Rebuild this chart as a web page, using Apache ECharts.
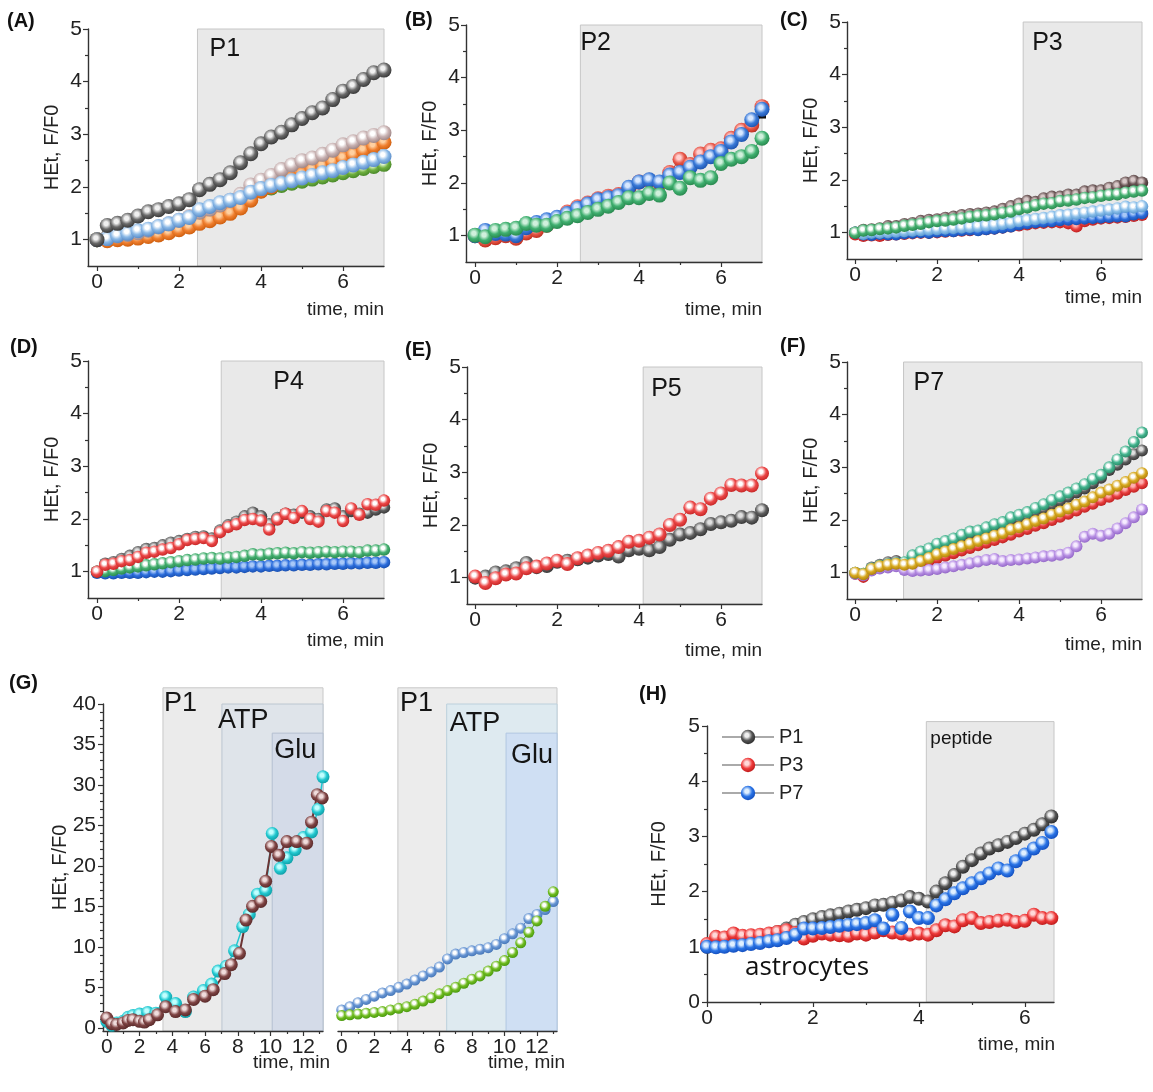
<!DOCTYPE html>
<html>
<head>
<meta charset="utf-8">
<script src="https://cdn.jsdelivr.net/npm/echarts@6/dist/echarts.min.js"></script>
<style>
  html, body { margin: 0; padding: 0; background: #ffffff; }
  #chart { width: 1153px; height: 1092px; }
</style>
</head>
<body>
<div id="chart"></div>
<script>
// ---------- sampling times (min) ----------
const t15s = [0,0.25,0.5,0.75,1,1.25,1.5,1.75,2,2.25,2.5,2.75,3,3.25,3.5,3.75,4,4.25,4.5,4.75,5,5.25,5.5,5.75,6,6.25,6.5,6.75,7];
const t12s = [0,0.2,0.4,0.6,0.8,1,1.2,1.4,1.6,1.8,2,2.2,2.4,2.6,2.8,3,3.2,3.4,3.6,3.8,4,4.2,4.4,4.6,4.8,5,5.2,5.4,5.6,5.8,6,6.2,6.4,6.6,6.8,7];
const t30s = [0,0.5,1,1.5,2,2.5,3,3.5,4,4.5,5,5.5,6,6.5,7,7.5,8,8.5,9,9.5,10,10.5,11,11.5,12,12.5,13];
const t10s = [0,0.17,0.33,0.5,0.67,0.83,1,1.17,1.33,1.5,1.67,1.83,2,2.17,2.33,2.5,2.67,2.83,3,3.17,3.33,3.5,3.67,3.83,4,4.17,4.33,4.5,4.67,4.83,5,5.17,5.33,5.5,5.67,5.83,6,6.17,6.33,6.5];

// ---------- (A) P1 ----------
const aGray   = [1.00,1.27,1.31,1.37,1.45,1.53,1.57,1.63,1.68,1.76,1.95,2.05,2.14,2.27,2.46,2.63,2.82,2.95,3.04,3.18,3.30,3.41,3.50,3.66,3.82,3.91,4.04,4.17,4.22];
const aPink   = [1.00,1.03,1.07,1.10,1.13,1.18,1.24,1.30,1.37,1.44,1.52,1.58,1.66,1.75,1.86,2.04,2.13,2.22,2.33,2.42,2.50,2.55,2.62,2.70,2.80,2.86,2.93,2.98,3.03];
const aOrange = [1.00,0.98,1.00,1.01,1.03,1.06,1.09,1.13,1.19,1.24,1.31,1.36,1.43,1.50,1.60,1.75,1.92,2.00,2.09,2.16,2.24,2.33,2.40,2.48,2.55,2.62,2.70,2.77,2.85];
const aGreen  = [1.00,1.00,1.03,1.06,1.10,1.14,1.18,1.23,1.29,1.35,1.45,1.53,1.60,1.68,1.76,1.85,1.93,1.98,2.03,2.07,2.11,2.15,2.19,2.23,2.27,2.31,2.35,2.39,2.43];
const aBlue   = [1.00,1.02,1.08,1.12,1.17,1.20,1.25,1.30,1.37,1.42,1.57,1.63,1.70,1.75,1.80,1.90,1.97,2.03,2.07,2.12,2.17,2.22,2.27,2.31,2.37,2.42,2.47,2.52,2.58];

// ---------- (B) P2 ----------
const bBlack = [1.00,1.02,1.04,1.05,1.02,1.10,1.18,1.25,1.32,1.42,1.52,1.60,1.66,1.72,1.72,1.85,1.98,2.02,2.00,2.15,2.22,2.30,2.40,2.48,2.58,2.75,2.88,3.05,3.30];
const bRed   = [1.00,0.92,0.96,1.00,0.95,1.05,1.10,1.20,1.30,1.45,1.55,1.62,1.70,1.75,1.78,1.88,2.02,2.05,2.00,2.20,2.45,2.35,2.55,2.62,2.65,2.85,3.00,3.10,3.45];
const bBlue  = [1.00,1.10,1.04,1.03,1.00,1.15,1.25,1.30,1.35,1.42,1.52,1.60,1.68,1.72,1.76,1.92,2.02,2.06,2.02,2.15,2.20,2.30,2.40,2.50,2.60,2.78,2.92,3.20,3.40];
const bGreen = [1.01,0.98,1.10,1.12,1.14,1.23,1.20,1.20,1.27,1.33,1.38,1.44,1.50,1.56,1.63,1.72,1.72,1.80,1.77,2.00,1.90,2.10,2.05,2.10,2.37,2.45,2.50,2.60,2.85];

// ---------- (C) P3 ----------
const cDark  = [1.00,1.05,1.06,1.08,1.12,1.12,1.16,1.18,1.22,1.24,1.25,1.28,1.30,1.33,1.35,1.36,1.38,1.40,1.45,1.50,1.55,1.60,1.58,1.65,1.68,1.68,1.72,1.72,1.78,1.80,1.80,1.85,1.88,1.95,1.98,1.95];
const cGreen = [1.00,1.04,1.05,1.07,1.08,1.10,1.13,1.15,1.17,1.20,1.22,1.23,1.25,1.27,1.30,1.32,1.33,1.35,1.38,1.40,1.45,1.48,1.52,1.55,1.56,1.60,1.61,1.63,1.66,1.67,1.70,1.72,1.73,1.76,1.78,1.80];
const cLight = [1.00,0.98,1.00,1.00,1.01,1.02,1.03,1.04,1.05,1.06,1.07,1.08,1.09,1.10,1.11,1.12,1.14,1.15,1.17,1.19,1.22,1.24,1.26,1.28,1.30,1.33,1.34,1.36,1.38,1.40,1.42,1.44,1.46,1.49,1.48,1.50];
const cBlue  = [1.00,0.97,0.96,0.98,0.97,0.97,0.99,1.00,1.01,1.00,1.02,1.03,1.03,1.05,1.06,1.05,1.07,1.08,1.10,1.12,1.16,1.18,1.20,1.21,1.22,1.24,1.25,1.26,1.27,1.28,1.29,1.30,1.31,1.31,1.35,1.37];
const cRed   = [0.97,0.94,0.95,0.94,0.96,0.97,0.98,0.99,1.00,1.00,1.01,1.02,1.03,1.04,1.05,1.06,1.07,1.08,1.10,1.12,1.14,1.16,1.18,1.19,1.20,1.20,1.18,1.12,1.22,1.25,1.27,1.28,1.29,1.30,1.32,1.34];

// ---------- (D) P4 ----------
const dGray  = [1.00,1.15,1.18,1.24,1.30,1.37,1.43,1.45,1.50,1.55,1.58,1.62,1.66,1.67,1.63,1.78,1.88,1.95,2.05,2.12,2.05,1.90,2.02,2.10,2.08,2.12,2.05,2.00,2.18,2.20,2.05,2.15,2.10,2.12,2.18,2.22];
const dRed   = [1.00,1.13,1.15,1.20,1.22,1.28,1.36,1.38,1.42,1.45,1.52,1.60,1.62,1.64,1.58,1.75,1.85,1.90,1.98,2.00,1.97,1.80,1.99,2.10,2.02,2.15,2.00,1.95,2.15,2.12,1.96,2.20,2.08,2.28,2.27,2.35];
const dGreen = [1.00,1.01,1.03,1.06,1.08,1.10,1.12,1.14,1.16,1.18,1.20,1.22,1.23,1.25,1.26,1.25,1.27,1.28,1.30,1.33,1.32,1.34,1.35,1.36,1.35,1.37,1.36,1.37,1.38,1.37,1.38,1.38,1.37,1.40,1.40,1.42];
const dBlue  = [0.98,0.97,0.97,0.98,0.98,0.98,0.99,1.00,1.00,1.01,1.02,1.03,1.04,1.05,1.06,1.07,1.08,1.08,1.09,1.10,1.10,1.11,1.11,1.12,1.12,1.13,1.13,1.14,1.14,1.15,1.15,1.16,1.16,1.17,1.17,1.18];

// ---------- (E) P5 ----------
const eGray = [1.00,1.02,1.10,1.12,1.18,1.28,1.20,1.22,1.30,1.32,1.35,1.38,1.42,1.45,1.40,1.52,1.55,1.52,1.58,1.72,1.82,1.85,1.92,2.02,2.05,2.08,2.15,2.14,2.28];
const eRed  = [1.02,0.90,0.99,1.06,1.08,1.18,1.21,1.27,1.32,1.26,1.37,1.42,1.47,1.51,1.58,1.68,1.70,1.76,1.82,2.00,2.10,2.33,2.30,2.50,2.60,2.76,2.75,2.75,2.98];

// ---------- (F) P7 ----------
const fGray   = [1.00,0.98,1.10,1.15,1.20,1.22,1.18,1.28,1.35,1.42,1.50,1.55,1.60,1.66,1.72,1.75,1.80,1.86,1.90,1.98,2.03,2.08,2.16,2.22,2.30,2.37,2.44,2.52,2.60,2.70,2.80,2.95,3.05,3.15,3.25,3.32];
const fRed    = [0.98,0.92,1.05,1.10,1.13,1.15,1.12,1.14,1.18,1.22,1.28,1.32,1.37,1.42,1.47,1.52,1.57,1.62,1.67,1.72,1.78,1.83,1.89,1.94,2.00,2.06,2.12,2.18,2.25,2.31,2.38,2.44,2.50,2.57,2.63,2.70];
const fPurple = [0.98,0.95,1.04,1.08,1.10,1.12,1.05,1.03,1.04,1.05,1.07,1.10,1.12,1.15,1.18,1.21,1.24,1.26,1.22,1.24,1.25,1.27,1.29,1.31,1.32,1.34,1.38,1.50,1.68,1.74,1.70,1.74,1.84,1.94,2.05,2.20];
const fGreen  = [1.00,0.98,1.08,1.13,1.16,1.18,1.20,1.33,1.40,1.46,1.55,1.60,1.65,1.72,1.78,1.80,1.86,1.92,1.96,2.05,2.10,2.15,2.23,2.30,2.38,2.45,2.52,2.60,2.68,2.78,2.86,3.00,3.15,3.30,3.48,3.66];
const fGold   = [1.00,0.97,1.07,1.12,1.15,1.17,1.15,1.17,1.22,1.28,1.35,1.40,1.45,1.50,1.55,1.60,1.65,1.70,1.75,1.82,1.86,1.92,1.98,2.03,2.10,2.16,2.22,2.29,2.35,2.43,2.52,2.58,2.65,2.72,2.80,2.89];

// ---------- (G) P1 then ATP then Glu ----------
const gBrownT = [0,0.3,0.6,1.0,1.3,1.6,2.0,2.3,2.6,3.1,3.6,4.2,4.8,5.3,6.0,6.5,7.2,7.6,8.1,8.5,8.9,9.4,9.7,10.05,10.5,11.0,11.6,12.2,12.5,12.85,13.15];
const gBrownV = [1.2,0.5,0.4,0.6,0.9,1.0,0.8,0.7,1.0,1.6,2.6,2.0,2.2,3.5,3.9,4.7,6.7,7.8,9.2,13.3,15.0,15.6,18.1,22.4,21.3,23.0,23.0,22.8,25.4,28.8,28.4];
const gCyanT  = [0,0.3,0.6,1.0,1.3,1.6,2.0,2.5,3.0,3.6,4.2,4.8,5.3,5.9,6.4,6.8,7.3,7.8,8.3,8.7,9.2,9.7,10.1,10.6,11.0,11.5,12.0,12.5,12.9,13.2];
const gCyanV  = [0.8,0.3,0.6,0.8,1.3,1.5,1.7,1.9,1.8,3.8,3.0,2.0,3.8,4.6,5.4,7.0,7.6,9.5,12.5,14.0,16.5,17.0,24.0,19.7,21.0,22.0,23.5,24.2,27.0,31.0];
const grGreen = [1.5,1.6,1.7,1.8,1.9,2.0,2.2,2.4,2.6,2.9,3.3,3.7,4.2,4.6,5.0,5.5,6.0,6.4,7.0,7.6,8.3,9.3,10.5,11.8,13.2,15.0,16.8];
const grBlue  = [2.2,2.6,3.1,3.5,3.9,4.3,4.6,5.0,5.4,5.9,6.4,6.9,7.5,8.5,9.1,9.3,9.5,9.7,9.9,10.3,11.0,11.6,12.3,13.5,14.0,14.6,15.6];

// ---------- (H) astrocytes ----------
const hP1 = [1.00,1.02,1.04,1.06,1.10,1.13,1.17,1.22,1.27,1.33,1.40,1.45,1.50,1.54,1.57,1.60,1.64,1.67,1.70,1.75,1.76,1.80,1.84,1.90,1.87,1.82,2.00,2.15,2.30,2.45,2.57,2.69,2.78,2.84,2.90,2.97,3.05,3.12,3.22,3.36];
const hP3 = [1.05,1.18,1.17,1.24,1.20,1.21,1.22,1.24,1.27,1.30,1.25,1.15,1.20,1.24,1.22,1.21,1.20,1.24,1.22,1.26,1.30,1.26,1.24,1.22,1.24,1.22,1.30,1.39,1.37,1.48,1.52,1.43,1.45,1.47,1.49,1.45,1.47,1.58,1.52,1.52];
const hP7 = [1.00,0.99,1.00,1.02,1.03,1.05,1.07,1.10,1.12,1.16,1.22,1.33,1.33,1.34,1.36,1.38,1.40,1.41,1.43,1.48,1.33,1.58,1.34,1.64,1.52,1.52,1.75,1.86,1.97,2.06,2.15,2.24,2.33,2.42,2.38,2.55,2.67,2.78,2.88,3.08];

// ---------- application windows: [label, from, to, low, high] ----------
const shadesA  = [['P1', 2.45, 7, 0.5, 5]];
const shadesB  = [['P2', 2.57, 7, 0.5, 5]];
const shadesC  = [['P3', 4.1, 7, 0.5, 5]];
const shadesD  = [['P4', 3.03, 7, 0.5, 5]];
const shadesE  = [['P5', 4.1, 7, 0.5, 5]];
const shadesF  = [['P7', 1.18, 7, 0.5, 5]];
const shadesGL = [['P1', 3.43, 13.2, -0.4, 42], ['ATP', 7.03, 13.2, -0.4, 40], ['Glu', 10.1, 13.2, -0.4, 36.4]];
const shadesGR = [['P1', 3.45, 13.23, -0.4, 42], ['ATP', 6.45, 13.23, -0.4, 40], ['Glu', 10.1, 13.23, -0.4, 36.4]];
const shadesH  = [['peptide', 4.14, 6.55, 0, 5.08]];

// ---------- tick values ----------
const xTicks7  = [0, 2, 4, 6];
const xMinor7  = [1, 3, 5];
const yTicks5  = [1, 2, 3, 4, 5];
const yMinor5  = [1.5, 2.5, 3.5, 4.5];
const xTicks13 = [0, 2, 4, 6, 8, 10, 12];
const xMinor13 = [1, 3, 5, 7, 9, 11, 13];
const yTicks40 = [0, 5, 10, 15, 20, 25, 30, 35, 40];
const yMinor40 = Array.from({length: 40}, (_, i) => i).filter(v => v % 5 !== 0);
const yTicksH  = [0, 1, 2, 3, 4, 5];
const yMinorH  = [0.5, 1.5, 2.5, 3.5, 4.5];

// ---------- drawing helpers ----------
const FAMILY = 'Liberation Sans';
const CSSFONT = '"Liberation Sans", Arial, sans-serif';
const INK = '#222222';

function ball(hi, base, edge) {
  return {
    type: 'radial', x: 0.42, y: 0.38, r: 0.62,
    colorStops: [
      { offset: 0, color: hi },
      { offset: 0.22, color: hi },
      { offset: 0.6, color: base },
      { offset: 1, color: edge }
    ]
  };
}

const LOOK = {
  aGray:   ['#f0f0f0', '#6a6a6a', '#3a3a3a'],
  aPink:   ['#ffffff', '#c9b3b3', '#a08888'],
  aOrange: ['#ffd0a0', '#f08030', '#d06010'],
  aGreen:  ['#e0f5d0', '#70b040', '#4a8a2a'],
  aBlue:   ['#ffffff', '#8ab8e6', '#5a8cc8'],
  red:     ['#ffd0d0', '#e8584a', '#c03020'],
  blue:    ['#d8e8ff', '#3a7ad8', '#1f55b0'],
  green:   ['#d0f0dc', '#40b070', '#2a8a50'],
  dark:    ['#d8c8c8', '#6a5555', '#403030'],
  wGreen:  ['#ffffff', '#45b070', '#2a8a50'],
  wLight:  ['#ffffff', '#8cc0ea', '#5a98d0'],
  dBlue:   ['#a8c8f8', '#2b6ddc', '#1a50b0'],
  dRed:    ['#ffb0b0', '#e84040', '#c02020'],
  gray:    ['#e0e0e0', '#606060', '#383838'],
  wRed:    ['#ffffff', '#ec4848', '#c82828'],
  purple:  ['#f6ecff', '#b890e4', '#9468c8'],
  teal:    ['#ffffff', '#45b590', '#2a8a68'],
  gold:    ['#ffffff', '#d8aa20', '#b08010'],
  brown:   ['#f0dcdc', '#804545', '#5a2a2a'],
  cyan:    ['#c0ffff', '#22c8d0', '#10a0a8'],
  gBlue:   ['#ffffff', '#6896d4', '#4878b8'],
  gGreen:  ['#ffffff', '#70bc20', '#4a9a10'],
  hP1:     ['#f0f0f0', '#555555', '#2e2e2e'],
  hP3:     ['#ffd8d8', '#ee3a3a', '#c01c1c'],
  hP7:     ['#e0f0ff', '#2a74e6', '#1450c0']
};

const option = {
  animation: false,
  backgroundColor: '#ffffff',
  grid: [], xAxis: [], yAxis: [], series: [],
  graphic: []
};

function dots(xi, yi, name, xs, ys, look, size, extra) {
  const c = LOOK[look];
  return Object.assign({
    type: 'line', name: name, xAxisIndex: xi, yAxisIndex: yi,
    data: xs.map((x, i) => [x, ys[i]]),
    symbol: 'circle', symbolSize: size, showSymbol: true,
    lineStyle: { color: c[2], width: 1 },
    itemStyle: { color: ball(c[0], c[1], c[2]) },
    emphasis: { disabled: true }, silent: true, z: 3
  }, extra || {});
}

function shadeSeries(xi, yi, shades, looks) {
  return {
    type: 'custom', xAxisIndex: xi, yAxisIndex: yi, clip: false, silent: true, z: 1,
    data: shades.map(s => [s[1], s[2], s[3], s[4]]),
    encode: { x: [0, 1], y: [2, 3] },
    renderItem: function (params, api) {
      const s = shades[params.dataIndex];
      const k = looks[params.dataIndex];
      const a = api.coord([s[1], s[4]]);
      const b = api.coord([s[2], s[3]]);
      return {
        type: 'group',
        children: [
          { type: 'rect', shape: { x: a[0], y: a[1], width: b[0] - a[0], height: b[1] - a[1] },
            style: { fill: k.fill, stroke: k.stroke, lineWidth: 1 } },
          { type: 'text', x: a[0] + k.dx, y: a[1] + k.dy, z2: 10,
            style: { text: s[0], font: k.size + 'px ' + CSSFONT, fill: '#151515', verticalAlign: 'top' } }
        ]
      };
    }
  };
}

function panel(p) {
  const gi = option.grid.length;
  const xi = option.xAxis.length;
  const yi = option.yAxis.length;
  option.grid.push({ left: p.box[0], top: p.box[1], width: p.box[2], height: p.box[3], containLabel: false });
  const axisLine = { show: true, onZero: false, lineStyle: { color: '#333', width: 1.4 } };
  const tickStyle = { color: '#333', width: 1.2 };
  const labelStyle = { fontSize: 21, fontFamily: FAMILY, color: INK };
  option.xAxis.push({
    gridIndex: gi, type: 'value', min: p.x[0], max: p.x[1], position: 'bottom', z: 2,
    axisLine: axisLine,
    axisTick: { show: true, customValues: p.xTicks, length: 5, lineStyle: tickStyle },
    axisLabel: Object.assign({ show: true, customValues: p.xTicks, margin: 6, hideOverlap: false }, labelStyle),
    splitLine: { show: false },
    name: 'time, min', nameLocation: 'end', nameGap: p.xNameGap, nameMoveOverlap: false,
    nameTextStyle: { fontSize: 19, fontFamily: FAMILY, color: INK, align: 'right', verticalAlign: 'top', padding: [p.xNamePad, 0, 0, 0] }
  });
  option.xAxis.push({
    gridIndex: gi, type: 'value', min: p.x[0], max: p.x[1], position: 'bottom', z: 2,
    axisLine: { show: false, onZero: false },
    axisTick: { show: true, customValues: p.xMinor, length: 3, lineStyle: tickStyle },
    axisLabel: { show: false }, splitLine: { show: false }
  });
  const showY = p.yShow !== false;
  option.yAxis.push({
    gridIndex: gi, type: 'value', min: p.y[0], max: p.y[1], position: 'left', z: 2,
    axisLine: Object.assign({}, axisLine, { show: showY }),
    axisTick: { show: showY, customValues: p.yTicks, length: 5, lineStyle: tickStyle },
    axisLabel: Object.assign({ show: showY, customValues: p.yTicks, margin: p.yLabelMargin || 6 }, labelStyle),
    splitLine: { show: false },
    name: showY ? 'HEt, F/F0' : '', nameLocation: 'middle', nameGap: p.yNameGap, nameRotate: 90, nameMoveOverlap: false,
    nameTextStyle: { fontSize: 20, fontFamily: FAMILY, color: INK }
  });
  option.yAxis.push({
    gridIndex: gi, type: 'value', min: p.y[0], max: p.y[1], position: 'left', z: 2,
    axisLine: { show: false, onZero: false },
    axisTick: { show: showY, customValues: p.yMinor, length: 3, lineStyle: tickStyle },
    axisLabel: { show: false }, splitLine: { show: false }
  });
  option.series.push(shadeSeries(xi, yi, p.shades, p.shadeLooks));
  p.lines.forEach(l => option.series.push(dots(xi, yi, l[0], l[1], l[2], l[3], l[4], l[5])));
}

const plain = (dx, dy, size) => ({ fill: '#e9e9e9', stroke: '#c6c6c6', dx: dx, dy: dy, size: size });

// (A)
panel({ box: [88, 29, 296, 237], x: [-0.22, 7], y: [0.5, 5], xTicks: xTicks7, xMinor: xMinor7, yTicks: yTicks5, yMinor: yMinor5,
  xNameGap: 0, xNamePad: 34, yNameGap: 26,
  shades: shadesA, shadeLooks: [plain(12, 8, 25)],
  lines: [
    ['A-green', t15s, aGreen, 'aGreen', 15], ['A-orange', t15s, aOrange, 'aOrange', 15],
    ['A-pink', t15s, aPink, 'aPink', 15], ['A-blue', t15s, aBlue, 'aBlue', 15],
    ['A-gray', t15s, aGray, 'aGray', 15]
  ] });
// (B)
panel({ box: [466, 25, 296, 237], x: [-0.22, 7], y: [0.5, 5], xTicks: xTicks7, xMinor: xMinor7, yTicks: yTicks5, yMinor: yMinor5,
  xNameGap: 0, xNamePad: 38, yNameGap: 26,
  shades: shadesB, shadeLooks: [plain(0, 6, 25)],
  lines: [
    ['B-black', t15s, bBlack, 'gray', 8, { symbol: 'rect', itemStyle: { color: '#111' }, lineStyle: { color: '#111', width: 1 } }],
    ['B-red', t15s, bRed, 'red', 15], ['B-blue', t15s, bBlue, 'blue', 15], ['B-green', t15s, bGreen, 'green', 15]
  ] });
// (C)
panel({ box: [847, 22, 295, 237], x: [-0.2, 7], y: [0.5, 5], xTicks: xTicks7, xMinor: xMinor7, yTicks: yTicks5, yMinor: yMinor5,
  xNameGap: 0, xNamePad: 29, yNameGap: 26,
  shades: shadesC, shadeLooks: [plain(9, 9, 25)],
  lines: [
    ['C-red', t12s, cRed, 'dRed', 12.5], ['C-blue', t12s, cBlue, 'dBlue', 12.5], ['C-light', t12s, cLight, 'wLight', 12.5],
    ['C-dark', t12s, cDark, 'dark', 12.5], ['C-green', t12s, cGreen, 'wGreen', 12.5]
  ] });
// (D)
panel({ box: [88, 361, 296, 237], x: [-0.22, 7], y: [0.5, 5], xTicks: xTicks7, xMinor: xMinor7, yTicks: yTicks5, yMinor: yMinor5,
  xNameGap: 0, xNamePad: 33, yNameGap: 26,
  shades: shadesD, shadeLooks: [plain(52, 9, 25)],
  lines: [
    ['D-blue', t12s, dBlue, 'dBlue', 12.5], ['D-green', t12s, dGreen, 'wGreen', 12.5],
    ['D-gray', t12s, dGray, 'gray', 12.5], ['D-red', t12s, dRed, 'wRed', 12.5]
  ] });
// (E)
panel({ box: [467, 367, 295, 237], x: [-0.2, 7], y: [0.5, 5], xTicks: xTicks7, xMinor: xMinor7, yTicks: yTicks5, yMinor: yMinor5,
  xNameGap: 0, xNamePad: 37, yNameGap: 26,
  shades: shadesE, shadeLooks: [plain(8, 10, 25)],
  lines: [
    ['E-gray', t15s, eGray, 'gray', 14], ['E-red', t15s, eRed, 'wRed', 14]
  ] });
// (F)
panel({ box: [847, 362, 295, 237], x: [-0.2, 7], y: [0.5, 5], xTicks: xTicks7, xMinor: xMinor7, yTicks: yTicks5, yMinor: yMinor5,
  xNameGap: 0, xNamePad: 36, yNameGap: 26,
  shades: shadesF, shadeLooks: [plain(10, 9, 25)],
  lines: [
    ['F-gray', t12s, fGray, 'gray', 12], ['F-red', t12s, fRed, 'dRed', 12], ['F-purple', t12s, fPurple, 'purple', 12],
    ['F-green', t12s, fGreen, 'teal', 12], ['F-gold', t12s, fGold, 'gold', 12]
  ] });
// (G) left
panel({ box: [103, 704, 220, 327], x: [-0.23, 13.2], y: [-0.4, 40], xTicks: xTicks13, xMinor: xMinor13, yTicks: yTicks40, yMinor: yMinor40,
  xNameGap: 7, xNamePad: 22, yNameGap: 33, yLabelMargin: 7,
  shades: shadesGL, shadeLooks: [
    { fill: '#ebebeb', stroke: '#c8c8c8', dx: 1, dy: 2, size: 27 },
    { fill: '#dfe4ea', stroke: '#bcc6d0', dx: -4, dy: 3, size: 27 },
    { fill: '#d4dbe8', stroke: '#b4bfd0', dx: 2, dy: 4, size: 27 }],
  lines: [
    ['G-cyan', gCyanT, gCyanV, 'cyan', 13, { lineStyle: { color: '#22c8d0', width: 1.5 } }],
    ['G-brown', gBrownT, gBrownV, 'brown', 13, { lineStyle: { color: '#6b3434', width: 2 } }]
  ] });
// (G) right
panel({ box: [338, 704, 219, 327], x: [-0.23, 13.23], y: [-0.4, 40], xTicks: xTicks13, xMinor: xMinor13, yTicks: yTicks40, yMinor: yMinor40,
  xNameGap: 8, xNamePad: 22, yNameGap: 36, yShow: false,
  shades: shadesGR, shadeLooks: [
    { fill: '#ececec', stroke: '#c8c8c8', dx: 2, dy: 2, size: 27 },
    { fill: '#deeaf0', stroke: '#bcd0dc', dx: 3, dy: 6, size: 27 },
    { fill: '#cfdff3', stroke: '#b0c6e2', dx: 5, dy: 9, size: 27 }],
  lines: [
    ['G-blue', t30s, grBlue, 'gBlue', 11], ['G-green', t30s, grGreen, 'gGreen', 11]
  ] });
// (H)
panel({ box: [707, 726, 347, 276], x: [0, 6.55], y: [0, 5], xTicks: xTicks7, xMinor: xMinor7, yTicks: yTicksH, yMinor: yMinorH,
  xNameGap: 1, xNamePad: 33, yNameGap: 38, yLabelMargin: 7,
  shades: shadesH, shadeLooks: [plain(4, 8, 19)],
  lines: [
    ['P1', t10s, hP1, 'hP1', 14, { lineStyle: { color: '#aaaaaa', width: 1 } }],
    ['P3', t10s, hP3, 'hP3', 14, { lineStyle: { color: '#aaaaaa', width: 1 } }],
    ['P7', t10s, hP7, 'hP7', 14, { lineStyle: { color: '#aaaaaa', width: 1 } }]
  ] });

option.legend = {
  show: true, data: ['P1', 'P3', 'P7'], orient: 'vertical', left: 716, top: 722,
  itemWidth: 52, itemHeight: 18, itemGap: 8, selectedMode: false,
  textStyle: { fontSize: 20, fontFamily: FAMILY, color: INK }
};

// panel letters and the cell-type note
const letters = [['(A)', 7, 21], ['(B)', 405, 20], ['(C)', 780, 20], ['(D)', 10, 347], ['(E)', 405, 350],
                 ['(F)', 780, 346], ['(G)', 9, 683], ['(H)', 639, 694]];
letters.forEach(l => option.graphic.push({
  type: 'text', x: l[1], y: l[2], z: 10,
  style: { text: l[0], font: 'bold 20px ' + CSSFONT, fill: '#111', verticalAlign: 'middle' }
}));
option.graphic.push({
  type: 'text', x: 745, y: 968, z: 10,
  style: { text: 'astrocytes', font: '26px "Open Sans", "Noto Sans", sans-serif', fill: '#111', verticalAlign: 'middle' }
});

const chart = echarts.init(document.getElementById('chart'), null, { renderer: 'canvas' });
chart.setOption(option);
</script>
</body>
</html>
